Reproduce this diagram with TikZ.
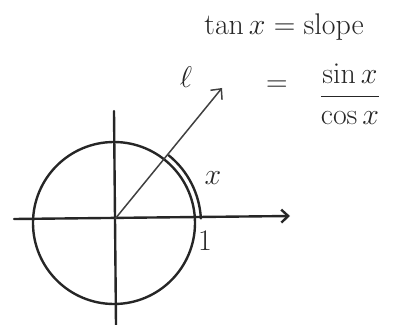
\RequirePackage{fix-cm}
\documentclass[tikz,border=0pt]{standalone}
\usepackage{amsmath}
\usetikzlibrary{arrows.meta,positioning}
\tikzset{
  sketch/.style={line width=2.4pt,draw=black!85,line cap=round},
  axis/.style={sketch,-{Straight Barb[length=7pt,width=13pt]}},
  thin ray/.style={line width=1.5pt,draw=black!75,-{Straight Barb[length=8pt,width=15pt]}},
  lbl/.style={font=\fontsize{30}{36}\selectfont,text=black!85,inner sep=0pt},
}
\begin{document}
\begin{tikzpicture}[x=1bp,y=1bp]
\useasboundingbox (0,0) rectangle (397,325);

% unit circle and axes
\coordinate (C) at (114,102);
\coordinate (O) at (115,106);
\coordinate (xl) at (14,106);
\coordinate (xr) at (290,109);
\coordinate (yt) at (114,214);
\coordinate (yb) at (116,0);
\coordinate (tip) at (222,237);

\draw[sketch] (C) circle[radius=81];
\draw[axis] (xl) -- (xr);
\draw[sketch] (yt) -- (yb);
\draw[thin ray] (O) -- (tip);

% the arc x
\draw[sketch] ([shift={(3:87)}]C) arc[start angle=3,end angle=51,radius=87];

% labels
\node[lbl] (ell) at (186,248) {$\ell$};
\node[lbl] (angle) at (213,147) {$x$};
\node[lbl] (one) at (205,84) {$1$};
\node[lbl] (slope) at (284,298) {$\tan x = \text{slope}$};
\node[lbl] (eq) at (277,239) {$=$};
\node[lbl] (ratio) at (350,231) {$\dfrac{\sin x}{\cos x}$};

\end{tikzpicture}
\end{document}
